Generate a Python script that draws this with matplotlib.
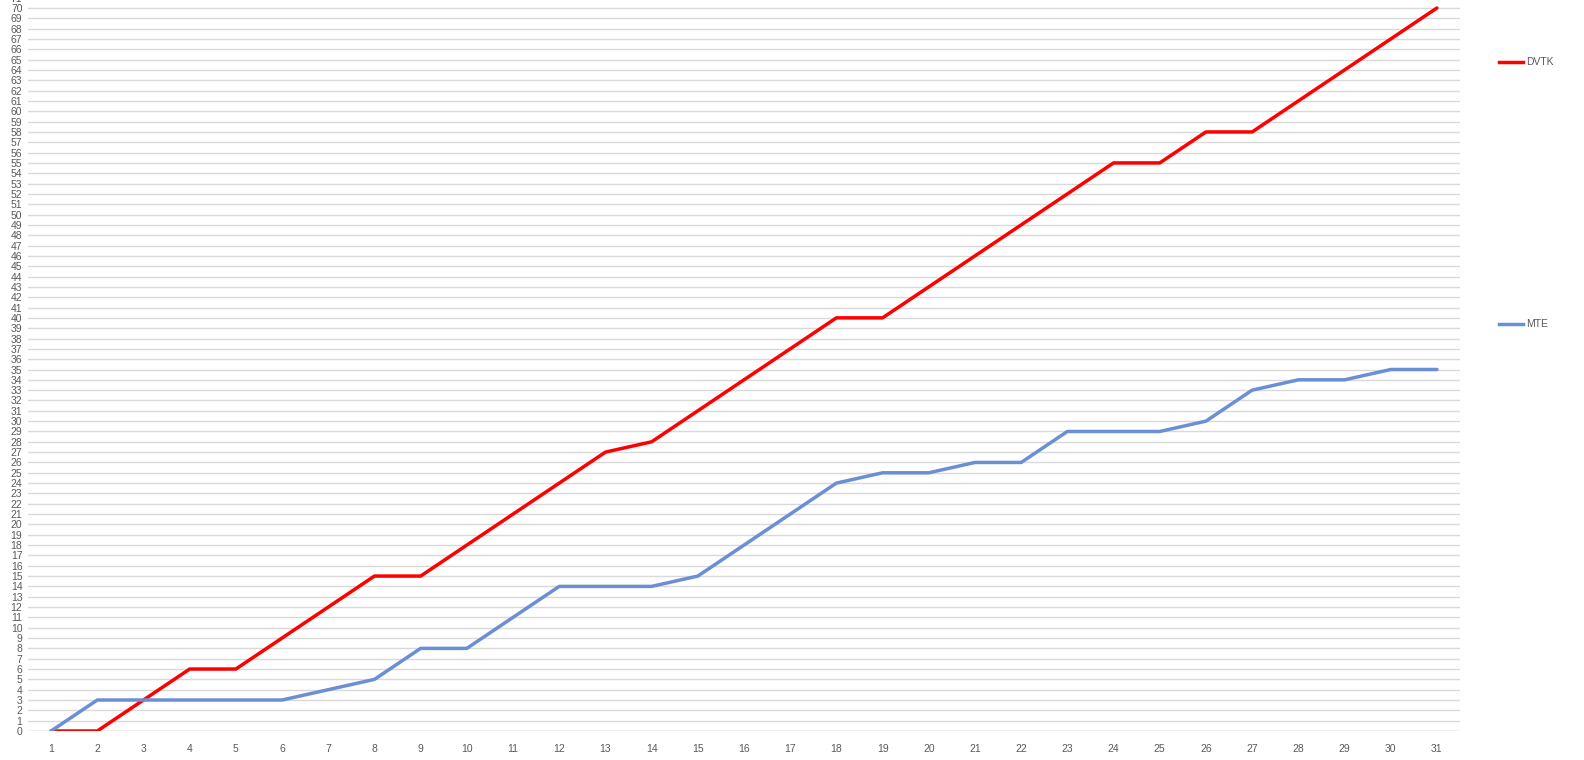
import matplotlib.pyplot as plt

# data
days = list(range(1, 32))
dvtk = [0, 0, 3, 6, 6, 9, 12, 15, 15, 18, 21, 24, 27, 28, 31, 34, 37, 40, 40, 43,
        46, 49, 52, 55, 55, 58, 58, 61, 64, 67, 70]
mte = [0, 3, 3, 3, 3, 3, 4, 5, 8, 8, 11, 14, 14, 14, 15, 18, 21, 24, 25, 25,
       26, 26, 29, 29, 29, 30, 33, 34, 34, 35, 35]

plt.rcParams['font.family'] = ['Liberation Sans', 'DejaVu Sans']

W, H = 1584, 760
fig = plt.figure(figsize=(W / 100, H / 100), dpi=100)

# axes in pixel terms: x 28..1460, y value 0 at 731px, 70 at 8px
px_per_unit = (731 - 8) / 70
top_px = 731 - 71 * px_per_unit
ax = fig.add_axes([28 / W, (H - 731) / H, (1460 - 28) / W, (731 - top_px) / H])

ax.plot(days, dvtk, color='#ff0000', lw=2.5, label='DVTK', solid_capstyle='round')
ax.plot(days, mte, color='#6b8fd4', lw=2.5, label='MTE', solid_capstyle='round')

ax.set_xlim(0.5, 31.5)
ax.set_ylim(0, 71)
ax.set_xticks(days)
ax.set_yticks(range(0, 72))
ax.tick_params(length=0, labelsize=7.5, colors='#595959', pad=4)
ax.tick_params(axis='x', pad=9)
ax.grid(axis='y', color='#d9d9d9', lw=1)
ax.set_axisbelow(True)
for s in ax.spines.values():
    s.set_visible(False)
ax.axhline(0, color='#d9d9d9', lw=1, zorder=0)

# legend entries placed like the original (far right, spread out)
for name, col, ypx in [('DVTK', '#ff0000', 62), ('MTE', '#6b8fd4', 324)]:
    fy = (H - ypx) / H
    fig.add_artist(plt.Line2D([1499 / W, 1523 / W], [fy, fy], color=col, lw=2.5))
    fig.text(1526 / W, fy, name, fontsize=7.5, color='#595959', va='center')

fig.savefig('out.png', dpi=100)
